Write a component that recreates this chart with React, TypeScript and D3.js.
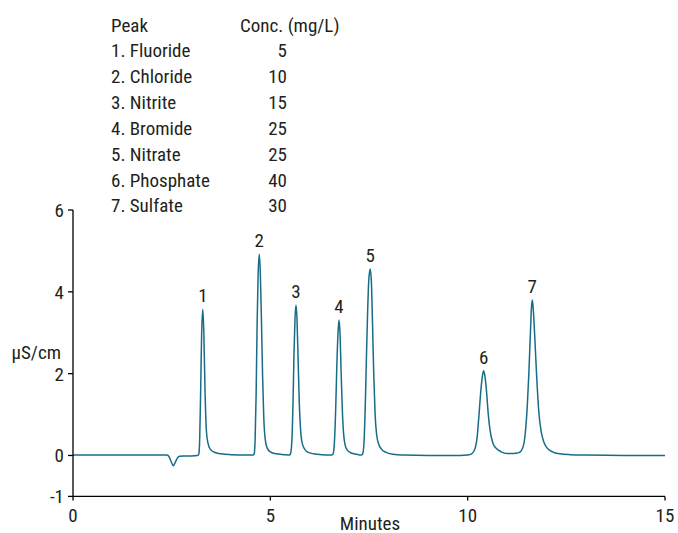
import React from "react";
import * as d3 from "d3";

// ---- data ----
const peakNames = ["Fluoride", "Chloride", "Nitrite", "Bromide", "Nitrate", "Phosphate", "Sulfate"];
const peakConc = [5, 10, 15, 25, 25, 40, 30];
const peakTimes = [3.29, 4.72, 5.65, 6.74, 7.53, 10.405, 11.637];
const peakHeights = [3.575, 4.92, 3.68, 3.31, 4.56, 2.07, 3.8];

const xTicks = [0, 5, 10, 15];
const yTicks = [-1, 0, 2, 4, 6];

// chromatogram trace [minutes, µS/cm]
const trace: [number, number][] = [
  [0, 0.01], [1, 0.01], [2, 0.01], [2.38, 0.01],
  [2.44, -0.04], [2.49, -0.16], [2.54, -0.25], [2.59, -0.17], [2.64, -0.07], [2.7, -0.02], [2.8, -0.01], [3.0, -0.01], [3.16, 0.0],
  [3.19, 0.05], [3.21, 0.4], [3.235, 1.6], [3.26, 3.0], [3.29, 3.575], [3.315, 3.0], [3.345, 1.6], [3.38, 0.6], [3.42, 0.3], [3.48, 0.15], [3.58, 0.08], [3.75, 0.04], [4.0, 0.02], [4.4, 0.01], [4.56, 0.01],
  [4.59, 0.04], [4.615, 0.4], [4.64, 1.5], [4.665, 3.2], [4.69, 4.4], [4.72, 4.92], [4.745, 4.5], [4.775, 3.3], [4.805, 1.9], [4.835, 0.9], [4.87, 0.4], [4.92, 0.18], [5.0, 0.09], [5.15, 0.04], [5.35, 0.02], [5.48, 0.01],
  [5.51, 0.04], [5.545, 0.35], [5.575, 1.3], [5.6, 2.5], [5.625, 3.35], [5.65, 3.68], [5.675, 3.35], [5.705, 2.3], [5.735, 1.25], [5.765, 0.65], [5.8, 0.33], [5.86, 0.17], [5.95, 0.08], [6.1, 0.04], [6.3, 0.02], [6.55, 0.01],
  [6.59, 0.04], [6.625, 0.35], [6.655, 1.1], [6.685, 2.2], [6.715, 3.0], [6.74, 3.31], [6.765, 3.0], [6.795, 2.0], [6.825, 1.1], [6.855, 0.55], [6.89, 0.28], [6.95, 0.13], [7.05, 0.06], [7.18, 0.03], [7.3, 0.01],
  [7.34, 0.04], [7.375, 0.35], [7.405, 1.2], [7.435, 2.4], [7.465, 3.5], [7.495, 4.3], [7.53, 4.56], [7.56, 4.25], [7.59, 3.2], [7.62, 2.0], [7.655, 1.0], [7.695, 0.5], [7.745, 0.28], [7.82, 0.15], [7.92, 0.08], [8.1, 0.03], [8.4, 0.01], [9.0, 0.0], [9.8, 0.0],
  [10.0, 0.01], [10.1, 0.04], [10.18, 0.15], [10.24, 0.45], [10.29, 1.03], [10.335, 1.6], [10.375, 1.95], [10.405, 2.07], [10.435, 1.95], [10.475, 1.6], [10.52, 1.03], [10.57, 0.6], [10.64, 0.3], [10.73, 0.17], [10.85, 0.09], [11.0, 0.05], [11.15, 0.05],
  [11.3, 0.07], [11.4, 0.2], [11.46, 0.55], [11.51, 1.2], [11.55, 2.0], [11.59, 3.0], [11.615, 3.6], [11.637, 3.8], [11.66, 3.6], [11.7, 2.9], [11.75, 1.9], [11.8, 1.1], [11.86, 0.6], [11.93, 0.33], [12.0, 0.2], [12.15, 0.09], [12.34, 0.04], [12.6, 0.02], [13.0, 0.01], [14.0, 0.0], [15.0, 0.0],
];

const W = 678;
const H = 533;
const FONT = "'Liberation Sans Narrow', 'Roboto Condensed', 'Arial Narrow', Roboto, sans-serif";
const TEXT = "#231f20";
const LINE = "#176d86";

export default function App() {
  const x = d3.scaleLinear().domain([0, 15]).range([73, 665]);
  const y = d3.scaleLinear().domain([-1, 6]).range([496.4, 210]);
  const line = d3
    .line<[number, number]>()
    .x((d) => x(d[0]))
    .y((d) => y(d[1]))
    .curve(d3.curveMonotoneX);

  const fs = 19;
  const rowH = 25.85;
  const row0 = 31.5;

  return (
    <svg
      width={W}
      height={H}
      style={{ position: "absolute", left: 0, top: 0, background: "#fff" }}
      fontFamily={FONT}
    >
      <rect width={W} height={H} fill="#fff" />
      {/* legend table */}
      <g fill={TEXT} fontSize={fs}>
        <text x={111} y={row0}>Peak</text>
        <text x={240} y={row0}>Conc. (mg/L)</text>
        {peakNames.map((n, i) => (
          <g key={n}>
            <text x={111} y={row0 + rowH * (i + 1)}>{`${i + 1}. ${n}`}</text>
            <text x={287} y={row0 + rowH * (i + 1)} textAnchor="end">{peakConc[i]}</text>
          </g>
        ))}
      </g>

      {/* trace */}
      <path d={line(trace) || ""} fill="none" stroke={LINE} strokeWidth={1.5} strokeLinejoin="round" />

      {/* peak labels */}
      <g fill={TEXT} fontSize={fs} textAnchor="middle">
        {peakTimes.map((t, i) => (
          <text key={i} x={x(t)} y={y(peakHeights[i]) - 7}>{i + 1}</text>
        ))}
      </g>

      {/* axes */}
      <g stroke="#000" strokeWidth={1.3}>
        <line x1={x(0)} x2={x(0)} y1={y(6)} y2={y(-1)} />
        <line x1={x(0)} x2={x(15)} y1={y(-1)} y2={y(-1)} />
        {yTicks.map((v) => (
          <line key={v} x1={x(0) - 5} x2={x(0)} y1={y(v)} y2={y(v)} />
        ))}
        {xTicks.map((v) => (
          <line key={v} x1={x(v)} x2={x(v)} y1={y(-1)} y2={y(-1) + 4} />
        ))}
      </g>
      <g fill={TEXT} fontSize={fs}>
        {yTicks.map((v) => (
          <text key={v} x={x(0) - 9} y={y(v) + 7} textAnchor="end">{v}</text>
        ))}
        {xTicks.map((v) => (
          <text key={v} x={x(v)} y={521.5} textAnchor="middle">{v}</text>
        ))}
        <text x={370} y={529.5} textAnchor="middle">Minutes</text>
        <text x={61} y={359} textAnchor="end">µS/cm</text>
      </g>
    </svg>
  );
}
